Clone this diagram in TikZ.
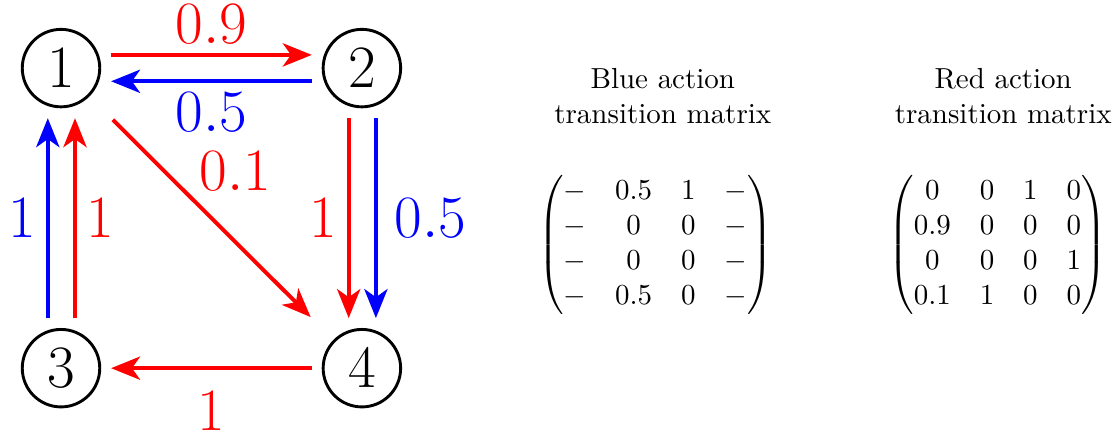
\documentclass[tikz,border=0pt]{standalone}
\usepackage{amsmath}
\usetikzlibrary{arrows.meta,positioning}

\begin{document}
\begin{tikzpicture}[
    estado/.style={circle, draw=black, line width=1pt, minimum size=0.94cm, inner sep=0pt, font=\huge},
    flecha/.style={-{Stealth[length=10pt,width=8pt,inset=2.8pt]}, line width=1.35pt, shorten >=0.12cm, shorten <=0.12cm},
    peso/.style={font=\huge}]
    \useasboundingbox (0,0) rectangle (13.55,5.216);

    % Estados
    \node[estado] (n1) at (0.74,4.39) {$1$};
    \node[estado] (n2) at (4.39,4.39) {$2$};
    \node[estado] (n3) at (0.74,0.75) {$3$};
    \node[estado] (n4) at (4.39,0.75) {$4$};

    % Transiciones entre 1 y 2
    \draw[flecha, red] ([yshift=0.16cm]n1.east) -- ([yshift=0.16cm]n2.west)
        node[peso, midway, above] {$0.9$};
    \draw[flecha, blue] ([yshift=-0.16cm]n2.west) -- ([yshift=-0.16cm]n1.east)
        node[peso, midway, below] {$0.5$};

    % Transiciones de 3 a 1
    \draw[flecha, blue] ([xshift=-0.16cm]n3.north) -- ([xshift=-0.16cm]n1.south)
        node[peso, midway, left] {$1$};
    \draw[flecha, red] ([xshift=0.17cm]n3.north) -- ([xshift=0.17cm]n1.south)
        node[peso, midway, right] {$1$};

    % Transiciones de 2 a 4
    \draw[flecha, red] ([xshift=-0.16cm]n2.south) -- ([xshift=-0.16cm]n4.north)
        node[peso, midway, left] {$1$};
    \draw[flecha, blue] ([xshift=0.17cm]n2.south) -- ([xshift=0.17cm]n4.north)
        node[peso, midway, right=2.5pt] {$0.5$};

    % Diagonal y regreso
    \draw[flecha, red, shorten <=0.4cm, shorten >=0.39cm] (n1) -- (n4)
        node[peso, pos=0.42, anchor=south west, inner sep=2pt] {$0.1$};
    \draw[flecha, red] (n4) -- (n3)
        node[peso, midway, below=4.3pt] {$1$};

    % Matrices de transicion
    \node[align=center] (tazul) at (8.04,4.05) {Blue action\\transition matrix};
    \node[align=center] (trojo) at (12.17,4.05) {Red action\\transition matrix};
    \node (mazul) at (7.95,2.244) {$\begin{pmatrix}
        - & 0.5 & 1 & - \\
        - & 0 & 0 & - \\
        - & 0 & 0 & - \\
        - & 0.5 & 0 & -
    \end{pmatrix}$};
    \node (mrojo) at (12.1,2.244) {$\begin{pmatrix}
        0 & 0 & 1 & 0 \\
        0.9 & 0 & 0 & 0 \\
        0 & 0 & 0 & 1 \\
        0.1 & 1 & 0 & 0
    \end{pmatrix}$};
\end{tikzpicture}
\end{document}
